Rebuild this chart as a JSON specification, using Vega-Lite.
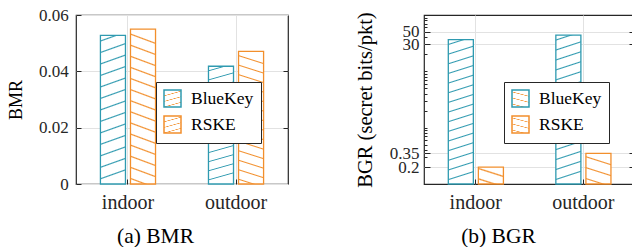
{
"$schema":"https://vega.github.io/schema/vega-lite/v6.json",
"padding":{"left":6,"top":5,"right":0,"bottom":0},
"autosize":{"type":"pad"},
"background":"white",
"spacing":64,
"resolve":{"scale":{"stroke":"independent"},"legend":{"stroke":"independent"}},
"config":{
 "font":"Liberation Serif",
 "view":{"stroke":"#262626","strokeWidth":1.2},
 "axis":{"labelFont":"Liberation Serif","titleFont":"Liberation Serif","labelColor":"#262626","titleColor":"#000000","titleFontWeight":"normal","gridColor":"#e2e2e2","gridWidth":1,"domain":false,"tickColor":"#262626","tickWidth":1,"labelFlush":false},
 "legend":{"labelFont":"Liberation Serif","labelFontSize":17.5,"labelColor":"#000000"},
 "text":{"font":"Liberation Serif"}
},
"datasets":{
 "bmr":[{"env":"indoor","method":"BlueKey","value":0.0528},{"env":"indoor","method":"RSKE","value":0.055},{"env":"outdoor","method":"BlueKey","value":0.0418},{"env":"outdoor","method":"RSKE","value":0.0471}],
 "bgr":[{"env":"indoor","method":"BlueKey","value":36.5},{"env":"indoor","method":"RSKE","value":0.2},{"env":"outdoor","method":"BlueKey","value":44},{"env":"outdoor","method":"RSKE","value":0.35}]
},
"hconcat":[
{"width":212,"height":169,"data":{"name":"bmr"},
 "resolve":{"axis":{"y":"independent"}},
 "layer":[
  {"mark":{"type":"bar","strokeWidth":1.3},
   "encoding":{
    "x":{"field":"env","type":"nominal","sort":["indoor","outdoor"],"scale":{"paddingInner":0.49,"paddingOuter":0.226},"axis":{"title":"(a) BMR","titleFont":"Liberation Serif","labelFont":"Liberation Serif","titleFontSize":21.5,"titleX":79,"titleY":58.5,"titleBaseline":"alphabetic","titleAlign":"center","labelFontSize":20,"labelBaseline":"alphabetic","labelPadding":29.5,"labelAngle":0,"tickSize":-5,"grid":true,"bandPosition":0.5}},
    "xOffset":{"field":"method","type":"nominal","sort":["BlueKey","RSKE"],"scale":{"paddingInner":0.167}},
    "y":{"field":"value","type":"quantitative","scale":{"domain":[0,0.06],"nice":false},"axis":{"title":"BMR","titleFont":"Liberation Serif","labelFont":"Liberation Serif","titleFontSize":18,"titleX":-59.5,"titleY":84.5,"titleAngle":270,"titleBaseline":"middle","titleAlign":"center","labelFontSize":17,"values":[0,0.02,0.04,0.06],"format":"~g","tickSize":-5,"labelPadding":12.7,"grid":true}},
    "stroke":{"field":"method","type":"nominal","scale":{"domain":["BlueKey","RSKE"],"range":["#2f9ab0","#f28f2c"]},
      "legend":{"title":null,"orient":"none","legendX":80,"legendY":67,"symbolType":"square","symbolSize":289,"symbolStrokeWidth":1.5,"labelFont":"Liberation Serif","labelFontSize":17.5,"labelOffset":9,"rowPadding":3,"padding":7,"strokeColor":"#262626","fillColor":"#ffffff","labelExpr":"datum.label + '\u00a0\u00a0\u00a0\u00a0\u00a0'",
        "encode":{"labels":{"update":{"font":{"value":"Liberation Serif"}}},"symbols":{"update":{"fill":[
          {"test":"datum.value === 'BlueKey'","value":{"gradient":"linear","x1":0,"y1":0,"x2":0.5,"y2":1,"stops":[{"offset":0.235,"color":"#fff"},{"offset":0.3,"color":"#2f9ab0"},{"offset":0.365,"color":"#fff"},{"offset":0.735,"color":"#fff"},{"offset":0.8,"color":"#2f9ab0"},{"offset":0.865,"color":"#fff"}]}},
          {"value":{"gradient":"linear","x1":0.5,"y1":0,"x2":0,"y2":1,"stops":[{"offset":0.135,"color":"#fff"},{"offset":0.2,"color":"#f28f2c"},{"offset":0.265,"color":"#fff"},{"offset":0.635,"color":"#fff"},{"offset":0.7,"color":"#f28f2c"},{"offset":0.765,"color":"#fff"}]}}
        ]}}}}},
    "fill":{"condition":[{"test":"datum.method === 'BlueKey'","value":{"gradient":"linear","x1":0,"y1":0,"x2":0.06,"y2":1,"stops":[
      {"offset":0.0305,"color":"#fff"},{"offset":0.0385,"color":"#2f9ab0"},{"offset":0.0465,"color":"#fff"},
      {"offset":0.1074,"color":"#fff"},{"offset":0.1154,"color":"#2f9ab0"},{"offset":0.1234,"color":"#fff"},
      {"offset":0.1843,"color":"#fff"},{"offset":0.1923,"color":"#2f9ab0"},{"offset":0.2003,"color":"#fff"},
      {"offset":0.2612,"color":"#fff"},{"offset":0.2692,"color":"#2f9ab0"},{"offset":0.2772,"color":"#fff"},
      {"offset":0.3382,"color":"#fff"},{"offset":0.3462,"color":"#2f9ab0"},{"offset":0.3542,"color":"#fff"},
      {"offset":0.4151,"color":"#fff"},{"offset":0.4231,"color":"#2f9ab0"},{"offset":0.4311,"color":"#fff"},
      {"offset":0.492,"color":"#fff"},{"offset":0.5,"color":"#2f9ab0"},{"offset":0.508,"color":"#fff"},
      {"offset":0.5689,"color":"#fff"},{"offset":0.5769,"color":"#2f9ab0"},{"offset":0.5849,"color":"#fff"},
      {"offset":0.6458,"color":"#fff"},{"offset":0.6538,"color":"#2f9ab0"},{"offset":0.6618,"color":"#fff"},
      {"offset":0.7228,"color":"#fff"},{"offset":0.7308,"color":"#2f9ab0"},{"offset":0.7388,"color":"#fff"},
      {"offset":0.7997,"color":"#fff"},{"offset":0.8077,"color":"#2f9ab0"},{"offset":0.8157,"color":"#fff"},
      {"offset":0.8766,"color":"#fff"},{"offset":0.8846,"color":"#2f9ab0"},{"offset":0.8926,"color":"#fff"},
      {"offset":0.9535,"color":"#fff"},{"offset":0.9615,"color":"#2f9ab0"},{"offset":0.9695,"color":"#fff"}]}}],
     "value":{"gradient":"linear","x1":0.06,"y1":0,"x2":0,"y2":1,"stops":[
      {"offset":0.0277,"color":"#fff"},{"offset":0.0357,"color":"#f28f2c"},{"offset":0.0437,"color":"#fff"},
      {"offset":0.0991,"color":"#fff"},{"offset":0.1071,"color":"#f28f2c"},{"offset":0.1151,"color":"#fff"},
      {"offset":0.1706,"color":"#fff"},{"offset":0.1786,"color":"#f28f2c"},{"offset":0.1866,"color":"#fff"},
      {"offset":0.242,"color":"#fff"},{"offset":0.25,"color":"#f28f2c"},{"offset":0.258,"color":"#fff"},
      {"offset":0.3134,"color":"#fff"},{"offset":0.3214,"color":"#f28f2c"},{"offset":0.3294,"color":"#fff"},
      {"offset":0.3849,"color":"#fff"},{"offset":0.3929,"color":"#f28f2c"},{"offset":0.4009,"color":"#fff"},
      {"offset":0.4563,"color":"#fff"},{"offset":0.4643,"color":"#f28f2c"},{"offset":0.4723,"color":"#fff"},
      {"offset":0.5277,"color":"#fff"},{"offset":0.5357,"color":"#f28f2c"},{"offset":0.5437,"color":"#fff"},
      {"offset":0.5991,"color":"#fff"},{"offset":0.6071,"color":"#f28f2c"},{"offset":0.6151,"color":"#fff"},
      {"offset":0.6706,"color":"#fff"},{"offset":0.6786,"color":"#f28f2c"},{"offset":0.6866,"color":"#fff"},
      {"offset":0.742,"color":"#fff"},{"offset":0.75,"color":"#f28f2c"},{"offset":0.758,"color":"#fff"},
      {"offset":0.8134,"color":"#fff"},{"offset":0.8214,"color":"#f28f2c"},{"offset":0.8294,"color":"#fff"},
      {"offset":0.8849,"color":"#fff"},{"offset":0.8929,"color":"#f28f2c"},{"offset":0.9009,"color":"#fff"},
      {"offset":0.9563,"color":"#fff"},{"offset":0.9643,"color":"#f28f2c"},{"offset":0.9723,"color":"#fff"}]}}
   }},
  {"mark":{"type":"point","opacity":0},
   "encoding":{"y":{"field":"value","type":"quantitative","axis":{"orient":"right","labels":false,"title":null,"grid":false,"tickSize":-5,"values":[0.02,0.04]}}}}
 ]},
{"width":211,"height":169,"data":{"name":"bgr"},
 "resolve":{"axis":{"y":"independent"}},
 "layer":[
  {"mark":{"type":"bar","strokeWidth":1.3},
   "encoding":{
    "x":{"field":"env","type":"nominal","sort":["indoor","outdoor"],"scale":{"paddingInner":0.49,"paddingOuter":0.226},"axis":{"title":"(b) BGR","titleFont":"Liberation Serif","labelFont":"Liberation Serif","titleFontSize":21.5,"titleX":74,"titleY":58.5,"titleBaseline":"alphabetic","titleAlign":"center","labelFontSize":20,"labelBaseline":"alphabetic","labelPadding":29.5,"labelAngle":0,"tickSize":-5,"grid":true,"bandPosition":0.5}},
    "xOffset":{"field":"method","type":"nominal","sort":["BlueKey","RSKE"],"scale":{"paddingInner":0.167}},
    "y":{"field":"value","type":"quantitative","scale":{"type":"log","domain":[0.1,100],"nice":false},"axis":{"title":"BGR (secret bits/pkt)","titleFont":"Liberation Serif","labelFont":"Liberation Serif","titleFontSize":20.5,"titleX":-59,"titleY":84.5,"titleAngle":270,"titleBaseline":"middle","titleAlign":"center","labelFontSize":17,
      "values":[0.2,0.3,0.35,0.4,0.5,0.6,0.7,0.8,0.9,1,2,3,4,5,6,7,8,9,10,20,30,40,50,60,70,80,90],
      "labelExpr":"datum.value===0.2?'0.2':datum.value===0.35?'0.35':datum.value===30?'30':datum.value===50?'50':''",
      "labelOverlap":false,"labelPadding":11,
      "tickSize":{"condition":{"test":"datum.value===0.2||datum.value===0.35||datum.value===30||datum.value===50","value":-6},"value":-3},
      "gridOpacity":{"condition":{"test":"datum.value===0.2||datum.value===0.35||datum.value===30||datum.value===50","value":1},"value":0},
      "grid":true}},
    "y2":{"datum":0.1},
    "stroke":{"field":"method","type":"nominal","scale":{"domain":["BlueKey","RSKE"],"range":["#2f9ab0","#f28f2c"]},
      "legend":{"title":null,"orient":"none","legendX":80,"legendY":67,"symbolType":"square","symbolSize":289,"symbolStrokeWidth":1.5,"labelFont":"Liberation Serif","labelFontSize":17.5,"labelOffset":9,"rowPadding":3,"padding":7,"strokeColor":"#262626","fillColor":"#ffffff","labelExpr":"datum.label + '\u00a0\u00a0\u00a0\u00a0\u00a0'",
        "encode":{"labels":{"update":{"font":{"value":"Liberation Serif"}}},"symbols":{"update":{"fill":[
          {"test":"datum.value === 'BlueKey'","value":{"gradient":"linear","x1":0,"y1":0,"x2":0.5,"y2":1,"stops":[{"offset":0.235,"color":"#fff"},{"offset":0.3,"color":"#2f9ab0"},{"offset":0.365,"color":"#fff"},{"offset":0.735,"color":"#fff"},{"offset":0.8,"color":"#2f9ab0"},{"offset":0.865,"color":"#fff"}]}},
          {"value":{"gradient":"linear","x1":0.5,"y1":0,"x2":0,"y2":1,"stops":[{"offset":0.135,"color":"#fff"},{"offset":0.2,"color":"#f28f2c"},{"offset":0.265,"color":"#fff"},{"offset":0.635,"color":"#fff"},{"offset":0.7,"color":"#f28f2c"},{"offset":0.765,"color":"#fff"}]}}
        ]}}}}},
    "fill":{"condition":[
     {"test":"datum.method === 'BlueKey'","value":{"gradient":"linear","x1":0,"y1":0,"x2":0.055,"y2":1,"stops":[
      {"offset":0.0258,"color":"#fff"},{"offset":0.0333,"color":"#2f9ab0"},{"offset":0.0408,"color":"#fff"},
      {"offset":0.0925,"color":"#fff"},{"offset":0.1,"color":"#2f9ab0"},{"offset":0.1075,"color":"#fff"},
      {"offset":0.1592,"color":"#fff"},{"offset":0.1667,"color":"#2f9ab0"},{"offset":0.1742,"color":"#fff"},
      {"offset":0.2258,"color":"#fff"},{"offset":0.2333,"color":"#2f9ab0"},{"offset":0.2408,"color":"#fff"},
      {"offset":0.2925,"color":"#fff"},{"offset":0.3,"color":"#2f9ab0"},{"offset":0.3075,"color":"#fff"},
      {"offset":0.3592,"color":"#fff"},{"offset":0.3667,"color":"#2f9ab0"},{"offset":0.3742,"color":"#fff"},
      {"offset":0.4258,"color":"#fff"},{"offset":0.4333,"color":"#2f9ab0"},{"offset":0.4408,"color":"#fff"},
      {"offset":0.4925,"color":"#fff"},{"offset":0.5,"color":"#2f9ab0"},{"offset":0.5075,"color":"#fff"},
      {"offset":0.5592,"color":"#fff"},{"offset":0.5667,"color":"#2f9ab0"},{"offset":0.5742,"color":"#fff"},
      {"offset":0.6258,"color":"#fff"},{"offset":0.6333,"color":"#2f9ab0"},{"offset":0.6408,"color":"#fff"},
      {"offset":0.6925,"color":"#fff"},{"offset":0.7,"color":"#2f9ab0"},{"offset":0.7075,"color":"#fff"},
      {"offset":0.7592,"color":"#fff"},{"offset":0.7667,"color":"#2f9ab0"},{"offset":0.7742,"color":"#fff"},
      {"offset":0.8258,"color":"#fff"},{"offset":0.8333,"color":"#2f9ab0"},{"offset":0.8408,"color":"#fff"},
      {"offset":0.8925,"color":"#fff"},{"offset":0.9,"color":"#2f9ab0"},{"offset":0.9075,"color":"#fff"},
      {"offset":0.9592,"color":"#fff"},{"offset":0.9667,"color":"#2f9ab0"},{"offset":0.9742,"color":"#fff"}]}},
     {"test":"datum.env === 'indoor'","value":{"gradient":"linear","x1":0.47,"y1":0,"x2":0,"y2":1,"stops":[
      {"offset":0.185,"color":"#fff"},{"offset":0.25,"color":"#f28f2c"},{"offset":0.315,"color":"#fff"},
      {"offset":0.685,"color":"#fff"},{"offset":0.75,"color":"#f28f2c"},{"offset":0.815,"color":"#fff"}]}}],
     "value":{"gradient":"linear","x1":0.26,"y1":0,"x2":0,"y2":1,"stops":[
      {"offset":0.1317,"color":"#fff"},{"offset":0.1667,"color":"#f28f2c"},{"offset":0.2017,"color":"#fff"},
      {"offset":0.465,"color":"#fff"},{"offset":0.5,"color":"#f28f2c"},{"offset":0.535,"color":"#fff"},
      {"offset":0.7983,"color":"#fff"},{"offset":0.8333,"color":"#f28f2c"},{"offset":0.8683,"color":"#fff"}]}}
   }},
  {"mark":{"type":"point","opacity":0},
   "encoding":{"y":{"field":"value","type":"quantitative","axis":{"orient":"right","labels":false,"title":null,"grid":false,
     "values":[0.2,0.3,0.35,0.4,0.5,0.6,0.7,0.8,0.9,1,2,3,4,5,6,7,8,9,10,20,30,40,50,60,70,80,90],
     "tickSize":{"condition":{"test":"datum.value===0.2||datum.value===0.35||datum.value===30||datum.value===50","value":-6},"value":-3}}}}}
 ]}
]
}
